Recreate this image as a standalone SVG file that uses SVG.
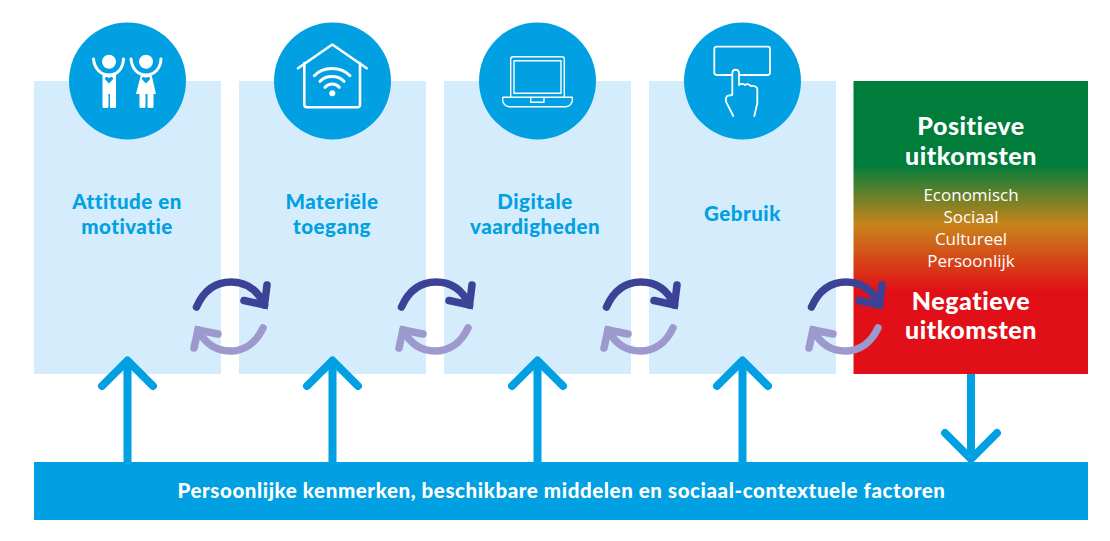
<svg xmlns="http://www.w3.org/2000/svg" xmlns:xlink="http://www.w3.org/1999/xlink" width="1110" height="541" viewBox="0 0 1110 541">
<style>
text{font-variant-ligatures:none}
.panel{fill:#d4ecfc}
.disc{fill:#00a0e3}
.lab{font-family:"Lato","Noto Sans",sans-serif;font-weight:900;font-size:20.5px;letter-spacing:.5px;fill:#00a0e3;text-anchor:middle}
.big{font-family:"Lato","Noto Sans",sans-serif;font-weight:900;font-size:25px;letter-spacing:.55px;fill:#fff;text-anchor:middle}
.small{font-family:"Open Sans","Noto Sans",sans-serif;font-size:17px;fill:#fff;text-anchor:middle}
.bar{font-family:"Lato","Noto Sans",sans-serif;font-weight:900;font-size:20.5px;letter-spacing:.58px;fill:#fff;text-anchor:middle}
.ln{fill:none;stroke:#fff;stroke-linecap:round;stroke-linejoin:round}
.up{fill:none;stroke:#00a0e3;stroke-width:8;stroke-linecap:round;stroke-linejoin:round}
.sh{fill:none;stroke:#00a0e3;stroke-width:8}
.dk{fill:none;stroke:#3c4296;stroke-width:7.5;stroke-linecap:round;stroke-linejoin:miter}
.lt{fill:none;stroke:#9d99cd;stroke-width:7.5;stroke-linecap:round;stroke-linejoin:miter}
</style>
<defs>
<linearGradient id="g" x1="0" y1="81" x2="0" y2="374" gradientUnits="userSpaceOnUse">
<stop offset="0.285" stop-color="#007c3b"/>
<stop offset="0.49" stop-color="#c8841a"/>
<stop offset="0.72" stop-color="#e10f17"/>
</linearGradient>
<g id="cyc">
<path class="dk" d="M196.500 307C204 290 216 282 231 282C247 282 258 291 264.500 305"/>
<path class="dk" d="M267 285L264.500 305L244 300.500"/>
<path class="lt" d="M263 328C256 343 244 351 230 351C215 351 205 343 198 330"/>
<path class="lt" d="M194 348L198 330L218 334"/>
</g>
</defs>
<g id="node-attitude">
<rect class="panel" x="34" y="81" width="187" height="293"/>
<circle class="disc" cx="127.500" cy="81" r="58.500"/>
<g fill="#fff">
<circle cx="109" cy="61.700" r="7"/>
<path class="ln" stroke-width="3" d="M93.500 59C94.500 69 101 75 109 75C117 75 123 69 123.500 59"/>
<path d="M102.500 74.500H116V106.500Q116 108 114.500 108H111Q110 108 110 106.500V94H108.500V106.500Q108.500 108 107 108H104Q102.500 108 102.500 106.500Z"/>
<circle cx="146" cy="61.700" r="7"/>
<path class="ln" stroke-width="3" d="M131 59C132 69 138 75 146 75C154 75 160.500 69 161 59"/>
<path d="M141 74.500H151.500L156 94H153.500V106.500Q153.500 108 152 108H149Q147.500 108 147.500 106.500V94H145.500V106.500Q145.500 108 144 108H141Q139.500 108 139.500 106.500V94H136Z"/>
</g>
<path fill="#00a0e3" d="M109 83.500L105.200 79.500C104 77.500 106.700 75.700 109 78C111.300 75.700 114 77.500 112.800 79.500Z"/>
<path fill="#00a0e3" d="M146 83.500L142.200 79.500C141 77.500 143.700 75.700 146 78C148.300 75.700 151 77.500 149.800 79.500Z"/>
<text class="lab" x="127" y="208.500">Attitude en</text>
<text class="lab" x="127" y="233.500">motivatie</text>
</g>
<g id="node-toegang">
<rect class="panel" x="239" y="81" width="187" height="293"/>
<circle class="disc" cx="332.500" cy="81" r="58.500"/>
<g class="ln" stroke-width="2.600">
<path d="M298 68.300L332.300 44.500L366.700 68.300"/>
<path d="M304.300 63V104.500Q304.300 107.300 307 107.300H357.300Q360 107.300 360 104.500V63"/>
<path stroke-width="3" d="M314.300 75.700C323 66 341 66 350 75.700"/>
<path stroke-width="3" d="M320 81.300C326 75 338 75 344 81.300"/>
<path stroke-width="3" d="M325 87.300C329 83 335.500 83 339.300 87.300"/>
</g>
<circle cx="332.300" cy="93.300" r="3" fill="#fff"/>
<text class="lab" x="332" y="208.500">Materiële</text>
<text class="lab" x="332" y="233.500">toegang</text>
</g>
<g id="node-vaardigheden">
<rect class="panel" x="444" y="81" width="187" height="293"/>
<circle class="disc" cx="537.500" cy="81" r="58.500"/>
<g class="ln" stroke-width="1.400">
<path d="M510.700 97.300V59Q510.700 56.700 513 56.700H562Q564.300 56.700 564.300 59V97.300"/>
<rect x="514" y="60.700" width="47" height="32.600"/>
<path d="M502.700 97.300H572.300V100C572.300 104 569 106.700 566 106.700H509C506 106.700 502.700 104 502.700 100Z"/>
<path d="M530.700 97.300V102.300H544V97.300"/>
</g>
<text class="lab" x="535" y="208.500">Digitale</text>
<text class="lab" x="535" y="233.500">vaardigheden</text>
</g>
<g id="node-gebruik">
<rect class="panel" x="649" y="81" width="187" height="293"/>
<circle class="disc" cx="742.500" cy="81" r="58.500"/>
<g class="ln" stroke-width="1.800">
<path d="M731 75H717Q714.300 75 714.300 72.500V49Q714.300 46.700 717 46.700H767.500Q770 46.700 770 49V72.500Q770 75 767.500 75H740"/>
<path d="M733.300 116L726 101.700C725.500 98 727 96 728.300 95.700L732.300 95V73.500C732.300 68.500 739 68.500 739 73.500V85C741 83.500 743 83.500 745 85C747 83.500 749 84 750.700 86C753.500 85.500 757.300 86.500 757.300 89V103.300L754.300 116"/>
</g>
<text class="lab" x="742.500" y="220.500">Gebruik</text>
</g>
<g id="node-uitkomsten">
<rect x="853.500" y="81" width="234.500" height="293" fill="url(#g)"/>
<text class="big" x="971" y="134.500">Positieve</text>
<text class="big" x="971" y="164.500">uitkomsten</text>
<text class="small" x="971" y="201">Economisch</text>
<text class="small" x="971" y="223">Sociaal</text>
<text class="small" x="971" y="245">Cultureel</text>
<text class="small" x="971" y="267">Persoonlijk</text>
<text class="big" x="971" y="310">Negatieve</text>
<text class="big" x="971" y="339">uitkomsten</text>
</g>
<g id="node-factoren">
<rect x="34" y="462" width="1054" height="58" fill="#00a0e3"/>
<text class="bar" x="561.500" y="498">Persoonlijke kenmerken, beschikbare middelen en sociaal-contextuele factoren</text>
</g>
<g id="connectors">
<path class="sh" d="M127.500 462V361"/><path class="up" d="M102 386L127.500 360.500L153 386"/>
<path class="sh" d="M332.500 462V361"/><path class="up" d="M307 386L332.500 360.500L358 386"/>
<path class="sh" d="M537.500 462V361"/><path class="up" d="M512 386L537.500 360.500L563 386"/>
<path class="sh" d="M742.500 462V361"/><path class="up" d="M717 386L742.500 360.500L768 386"/>
<path class="sh" d="M971 374V458"/><path class="up" d="M945 433L971 459L997 433"/>
<use href="#cyc" xlink:href="#cyc"/>
<use href="#cyc" xlink:href="#cyc" x="205"/>
<use href="#cyc" xlink:href="#cyc" x="410"/>
<use href="#cyc" xlink:href="#cyc" x="615"/>
</g>
</svg>
